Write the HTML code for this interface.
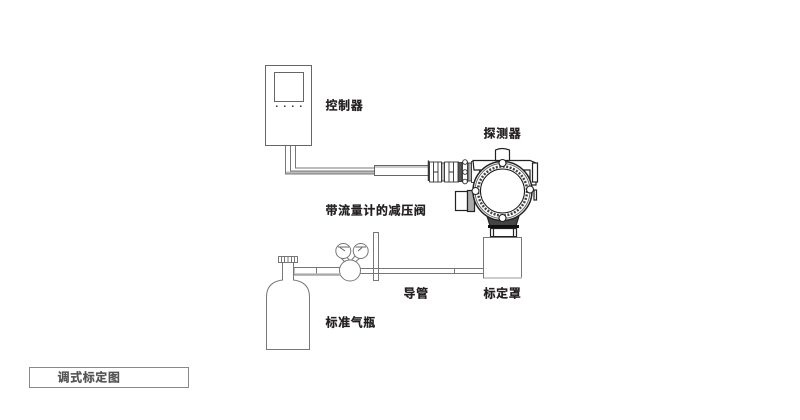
<!DOCTYPE html>
<html><head><meta charset="utf-8"><style>
html,body{margin:0;padding:0;background:#fff}
svg{display:block}
text{font-family:"Liberation Sans","Noto Sans CJK SC",sans-serif;font-weight:700;font-size:12px;letter-spacing:.6px;fill:#231f20;stroke:#231f20;stroke-width:.25px}
</style></head><body>
<svg width="800" height="420" viewBox="0 0 800 420" xmlns="http://www.w3.org/2000/svg">
<g fill="none" stroke="#666" stroke-width="1">
<!-- controller -->
<rect x="265.500" y="65.500" width="46" height="80"/>
<rect x="274.500" y="72.500" width="29" height="29"/>
<path d="M285.500 146V174H374M290.500 146V171H374M295.500 146V168H374" stroke="#777"/>
<path d="M286 172.500H374" stroke="#bbb" stroke-width="2"/>
<rect x="374.500" y="165.500" width="54" height="10"/>
<path d="M375 167H428" stroke="#ccc" stroke-width="2"/>
</g>
<path d="M428.500 160.500V181" stroke="#333" stroke-width="1.500"/>
<g fill="#333"><rect x="276" y="105.500" width="1.500" height="1.500"/><rect x="284" y="105.500" width="1.500" height="1.500"/><rect x="292" y="105.500" width="1.500" height="1.500"/><rect x="300" y="105.500" width="1.500" height="1.500"/></g>

<!-- connector -->
<g stroke="#333" stroke-width=".9" fill="#fff">
<rect x="429.500" y="162" width="12" height="20"/>
<path d="M433.500 162V182M438 162V182M433.500 172H438" fill="none"/>
<rect x="441.500" y="163" width="3" height="18" fill="#bbb"/>
<rect x="444.500" y="162" width="14" height="20"/>
<path d="M449 162V182M453.500 162V182M449 172H453.500" fill="none"/>
<rect x="458" y="162.500" width="4" height="19" fill="#555"/>
<rect x="462.500" y="162" width="5" height="20"/>
<circle cx="465" cy="162" r="2.300"/><circle cx="465" cy="181.500" r="2.300"/><circle cx="465" cy="172" r="2.300"/>
<rect x="468" y="163" width="3.500" height="18" fill="#aaa"/>
<rect x="471.500" y="161.500" width="8" height="21"/>
</g>

<!-- detector body -->
<g stroke="#222" stroke-width="1.200" fill="#fff">
<path d="M495.500 166V150Q502 147 509.500 150V166Z"/>
<path d="M473 160.500H530L536 163V185H530V170H474Z"/>
<rect x="532.500" y="163" width="5" height="19"/>
<rect x="455.500" y="191.500" width="12" height="19"/>
<rect x="467.500" y="190.500" width="7" height="21" fill="#aaa"/>
<rect x="534" y="190" width="2.500" height="10"/>
<path d="M487 216L491 229H515L519 216Z" fill="#444"/>
<rect x="490.500" y="228.500" width="26" height="8.500"/>
<path d="M493.500 229V237M513.500 229V237" fill="none"/>
</g>
<rect x="488" y="225" width="31" height="3" fill="#111"/>
<rect x="490" y="236" width="27" height="1.500" fill="#222"/>
<circle cx="502.500" cy="191" r="29.500" fill="#fff" stroke="#222" stroke-width="1.500"/>
<circle cx="502.500" cy="191" r="27.500" fill="none" stroke="#666" stroke-width="1"/>
<circle cx="502.500" cy="191" r="24.500" fill="none" stroke="#444" stroke-width="2.500" stroke-dasharray="2 1.500"/>
<circle cx="502.500" cy="191" r="22" fill="#fff" stroke="#111" stroke-width="1"/>
<g fill="#fff" stroke="#222" stroke-width="1.100">
<circle cx="502.500" cy="163" r="3.500"/><circle cx="502.500" cy="218" r="3.500"/><circle cx="475.500" cy="191" r="3.500"/><circle cx="530" cy="189.500" r="3.500"/>
</g>

<!-- calibration cap and tube -->
<g fill="none" stroke="#777" stroke-width="1">
<rect x="483.500" y="237.500" width="38" height="40.500" fill="#fff"/>
<path d="M360 268.500H483.500M360 273.500H483.500M454.500 268.500V273.500"/>
</g>
<path d="M484 278H522" stroke="#bbb" stroke-width="1.500"/>

<!-- regulator -->
<g fill="#fff" stroke="#777" stroke-width="1">
<path d="M294 267.500H342V275H294ZM316.500 267.500V275"/>
<path d="M341 258L346 256L351 262L346 263ZM360 258L355 256L350 262L354 263Z"/>
<circle cx="350" cy="270.500" r="10.500"/>
<circle cx="343.300" cy="251" r="7.500"/>
<circle cx="360.700" cy="251" r="7.500"/>
</g>
<path d="M295 274H341" stroke="#bbb" stroke-width="1.500"/>
<path d="M338 247H349M355.500 247H366M340 247.500L345 251M362 247.500L358 251" stroke="#666" stroke-width="1" fill="none"/>
<path d="M360 268.500H384M360 273.500H384" stroke="#777" fill="none"/>
<rect x="373.500" y="232.500" width="5" height="48" fill="none" stroke="#777"/>

<!-- cylinder -->
<g fill="#fff" stroke="#777" stroke-width="1">
<path d="M282.500 262V280Q266.500 282 266.500 297V349.500H309.500V297Q309.500 282 293.500 280V262Z"/>
<rect x="278.500" y="256.500" width="19" height="6"/>
<path d="M281.500 257V262M284.500 257V262M288 257V262M291.500 257V262M294.500 257V262" fill="none"/>
</g>

<!-- labels -->
<text x="325.500" y="109.500">控制器</text>
<text x="483.500" y="137.500">探测器</text>
<text x="325.500" y="214.500">带流量计的减压阀</text>
<text x="403.500" y="297.500">导管</text>
<text x="483.500" y="297.500">标定罩</text>
<text x="325.500" y="326.500">标准气瓶</text>
<rect x="29.500" y="367.500" width="159" height="20" fill="#fff" stroke="#888" stroke-width="1"/>
<text x="57.500" y="381.500" style="fill:#555;stroke:#555">调式标定图</text>
</svg>
</body></html>
